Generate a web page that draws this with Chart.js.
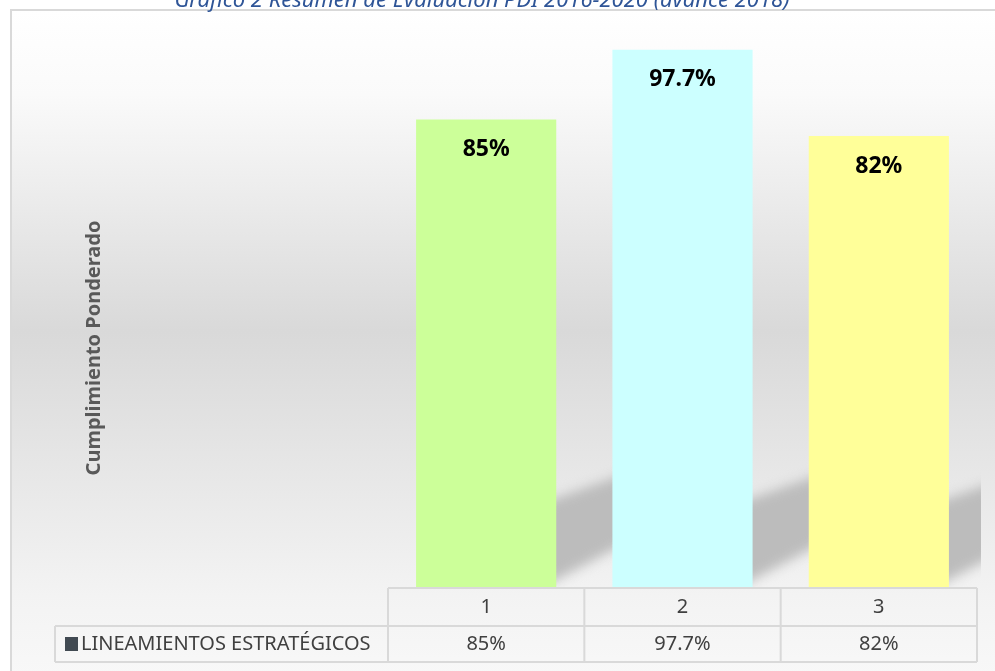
<!DOCTYPE html>
<html lang="es">
<head>
  <meta charset="UTF-8">
  <title>Resumen de Evaluación PDI</title>
  <script src="https://cdn.jsdelivr.net/npm/chart.js"></script>
  <style>
    html, body { margin: 0; padding: 0; background: #fff; overflow: hidden; }
    #marco {
      position: absolute; left: 10px; top: 9px; width: 1000px; height: 700px;
      border: 2px solid #d9d9d9; box-sizing: border-box;
      background: linear-gradient(to bottom, #ffffff 0%, #fafafa 12%, #d9d9d9 46%, #f3f3f3 84%, #fafafa 100%);
    }
    #contenedor { position: absolute; left: 0; top: 0; width: 995px; height: 671px; }
  </style>
</head>
<body>
  <div id="marco"></div>
  <div id="contenedor"><canvas id="grafico"></canvas></div>

  <script>
    const titulo = "Gráfico 2 Resumen de Evaluación PDI 2016-2020 (avance 2018)";
    const tituloEje = "Cumplimiento Ponderado";
    const serie = "LINEAMIENTOS ESTRATÉGICOS";
    const lineamientos = ["1", "2", "3"];
    const cumplimiento = [85, 97.7, 82];
    const colores = ["#ccff99", "#ccffff", "#ffff99"];

    const fuente = '"Noto Sans", "DejaVu Sans", sans-serif';

    // sombra diagonal detrás de cada barra
    const sombras = {
      id: 'sombras',
      beforeDatasetsDraw(chart) {
        const { ctx, chartArea } = chart;
        ctx.save();
        ctx.beginPath();
        ctx.rect(chartArea.left, chartArea.top, chartArea.right + 4 - chartArea.left, chartArea.bottom - chartArea.top);
        ctx.clip();
        ctx.filter = 'blur(6px)';
        ctx.fillStyle = '#bcbcbc';
        chart.getDatasetMeta(0).data.forEach(bar => {
          const r = bar.x + bar.width / 2, b = bar.base;
          ctx.beginPath();
          ctx.moveTo(r - 20, b - 89 + 0.35 * 20);
          ctx.lineTo(r + 90, b - 89 - 0.35 * 90);
          ctx.lineTo(r + 90, b - 7 - 0.53 * 90);
          ctx.lineTo(r - 20, b - 7 + 0.53 * 20);
          ctx.closePath();
          ctx.fill();
        });
        ctx.restore();
      }
    };

    // etiquetas de valor dentro de las barras
    const etiquetas = {
      id: 'etiquetas',
      afterDatasetsDraw(chart) {
        const { ctx } = chart;
        ctx.save();
        ctx.font = 'bold 23px ' + fuente;
        ctx.fillStyle = '#000';
        ctx.textAlign = 'center';
        ctx.textBaseline = 'middle';
        chart.getDatasetMeta(0).data.forEach((bar, i) => {
          ctx.fillText(cumplimiento[i] + '%', bar.x, bar.y + 30);
        });
        ctx.restore();
      }
    };

    // título, título del eje y tabla de datos
    const tabla = {
      id: 'tabla',
      afterDraw(chart) {
        const { ctx, chartArea } = chart;
        const n = lineamientos.length;
        const w = (chartArea.right - chartArea.left) / n;
        const top = chartArea.bottom + 1, mid = top + 38, bot = mid + 36;
        const izq = 55;

        ctx.save();
        // título
        ctx.font = 'italic 22px ' + fuente;
        ctx.fillStyle = '#2f5597';
        ctx.textAlign = 'center';
        ctx.textBaseline = 'alphabetic';
        ctx.fillText(titulo, 482, 7);

        // título del eje
        ctx.save();
        ctx.translate(94, 348);
        ctx.rotate(-Math.PI / 2);
        ctx.font = 'bold 20px ' + fuente;
        ctx.fillStyle = '#595959';
        ctx.textAlign = 'center';
        ctx.textBaseline = 'middle';
        ctx.fillText(tituloEje, 0, 0);
        ctx.restore();

        // líneas
        ctx.strokeStyle = '#d9d9d9';
        ctx.lineWidth = 2;
        ctx.beginPath();
        ctx.moveTo(chartArea.left, top); ctx.lineTo(chartArea.right, top);
        ctx.moveTo(izq, mid); ctx.lineTo(chartArea.right, mid);
        ctx.moveTo(izq, bot); ctx.lineTo(chartArea.right, bot);
        ctx.moveTo(izq, mid); ctx.lineTo(izq, bot);
        for (let i = 0; i <= n; i++) {
          const x = chartArea.left + i * w;
          ctx.moveTo(x, top); ctx.lineTo(x, bot);
        }
        ctx.stroke();

        // textos
        ctx.font = '20px ' + fuente;
        ctx.fillStyle = '#404040';
        ctx.textBaseline = 'middle';
        ctx.textAlign = 'center';
        lineamientos.forEach((l, i) => {
          const cx = chart.scales.x.getPixelForValue(i);
          ctx.fillText(l, cx, (top + mid) / 2);
          ctx.fillText(cumplimiento[i] + '%', cx, (mid + bot) / 2);
        });
        ctx.fillStyle = '#414a52';
        ctx.fillRect(65, (mid + bot) / 2 - 7, 13, 14);
        ctx.fillStyle = '#404040';
        ctx.textAlign = 'left';
        ctx.fillText(serie, 81, (mid + bot) / 2);
        ctx.restore();
      }
    };

    new Chart(document.getElementById('grafico').getContext('2d'), {
      type: 'bar',
      data: {
        labels: lineamientos,
        datasets: [{
          label: serie,
          data: cumplimiento,
          backgroundColor: colores,
          borderWidth: 0,
          categoryPercentage: 1,
          barPercentage: 0.714
        }]
      },
      options: {
        responsive: true,
        maintainAspectRatio: false,
        animation: false,
        layout: { padding: { left: 388, right: 18, top: 37, bottom: 84 } },
        plugins: { legend: { display: false }, tooltip: { enabled: false } },
        scales: {
          x: { display: false },
          y: { display: false, min: 0, max: 100 }
        }
      },
      plugins: [sombras, etiquetas, tabla]
    });
  </script>
</body>
</html>
